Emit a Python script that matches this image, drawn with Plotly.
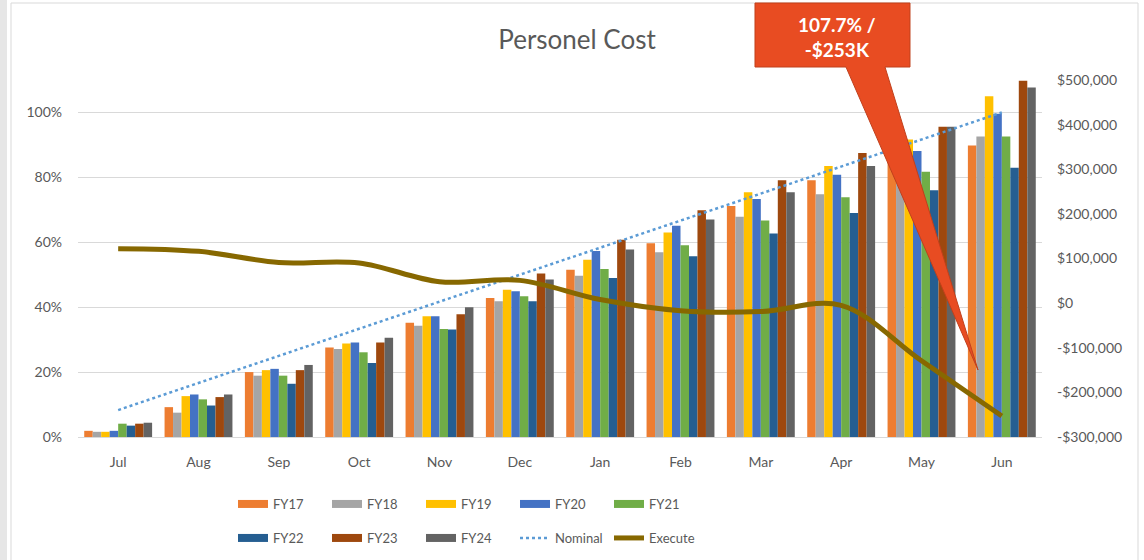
import plotly.graph_objects as go

# ---------------- data ----------------
months = ["Jul", "Aug", "Sep", "Oct", "Nov", "Dec", "Jan", "Feb", "Mar", "Apr", "May", "Jun"]
fy17 = [1.9, 9.2, 20.0, 27.6, 35.2, 42.8, 51.5, 59.7, 71.2, 79.1, 86.0, 89.8]
fy18 = [1.6, 7.5, 18.9, 27.1, 34.3, 41.8, 49.7, 56.9, 67.9, 74.8, 80.0, 92.6]
fy19 = [1.6, 12.6, 20.6, 28.8, 37.2, 45.4, 54.6, 63.0, 75.4, 83.5, 91.7, 105.0]
fy20 = [1.9, 13.1, 21.0, 29.1, 37.2, 44.9, 57.3, 65.1, 73.3, 80.8, 88.1, 99.6]
fy21 = [4.1, 11.6, 18.9, 26.1, 33.3, 43.4, 51.8, 59.1, 66.7, 73.9, 81.7, 92.6]
fy22 = [3.5, 9.7, 16.4, 22.8, 33.1, 41.8, 49.0, 55.7, 62.7, 69.0, 76.0, 83.0]
fy23 = [4.1, 12.3, 20.6, 29.1, 37.8, 50.4, 60.8, 69.9, 79.1, 87.5, 95.6, 109.8]
fy24 = [4.4, 13.1, 22.2, 30.6, 40.0, 48.5, 57.8, 67.0, 75.4, 83.5, 95.6, 107.7]
nominal = [8.3, 16.7, 25.0, 33.3, 41.7, 50.0, 58.3, 66.7, 75.0, 83.3, 91.7, 100.0]
execute = [122000, 116000, 91000, 90000, 48000, 51000, 8000, -17000, -19000, -5000, -129000, -253000]

left_ticks = [0, 20, 40, 60, 80, 100]
left_labels = ["0%", "20%", "40%", "60%", "80%", "100%"]
right_ticks = [-300000, -200000, -100000, 0, 100000, 200000, 300000, 400000, 500000]
right_labels = ["-$300,000", "-$200,000", "-$100,000", "$0", "$100,000",
                "$200,000", "$300,000", "$400,000", "$500,000"]

series_names = ["FY17", "FY18", "FY19", "FY20", "FY21", "FY22", "FY23", "FY24"]
series_values = [fy17, fy18, fy19, fy20, fy21, fy22, fy23, fy24]
series_colors = ["#ED7D31", "#A5A5A5", "#FFC000", "#4472C4", "#70AD47",
                 "#255E91", "#9E480E", "#636363"]

callout_text = "107.7% /<br>-$253K"
title_text = "Personel Cost"

# ---------------- layout geometry ----------------
W, H = 1144, 560
L, R, T, B = 78, 1042, 80, 437
FONT = "Lato"
GREY = "#595959"


def px(x):
    return (x - L) / (R - L)


def py(y):
    return (B - y) / (B - T)


fig = go.Figure()

for name, vals, col in zip(series_names, series_values, series_colors):
    fig.add_trace(go.Bar(x=months, y=vals, name=name, marker=dict(color=col, line=dict(width=0)),
                         legendgroup=name, showlegend=False))

# legend swatches (wide bars like Excel)
for i, (name, col) in enumerate(zip(series_names, series_colors)):
    fig.add_trace(go.Scatter(x=[None], y=[None], mode="lines", name=name,
                             line=dict(color=col, width=8), legendgroup=name,
                             legend="legend" if i < 5 else "legend2"))

fig.add_trace(go.Scatter(x=months, y=nominal, mode="lines", name="Nominal",
                         line=dict(color="#5B9BD5", width=2.5, dash="dot"),
                         legend="legend2"))
fig.add_trace(go.Scatter(x=months, y=execute, mode="lines", name="Execute", yaxis="y2",
                         line=dict(color="#876800", width=5, shape="spline", smoothing=1),
                         legend="legend2"))

legend_common = dict(orientation="h", xanchor="left", yanchor="middle",
                     xref="container", yref="container",
                     entrywidth=49, entrywidthmode="pixels",
                     font=dict(family=FONT, size=13, color=GREY),
                     bgcolor="rgba(0,0,0,0)", traceorder="normal")

# callout polygon (pixel coords -> paper)
poly = [(755, 3), (910, 3), (910, 67), (885, 67), (978, 370), (846, 67), (755, 67)]
path = "M " + " L ".join(f"{px(x):.5f},{py(y):.5f}" for x, y in poly) + " Z"

shapes = [
    # outside grey band and chart frame
    dict(type="rect", xref="paper", yref="paper", x0=px(0), x1=px(7), y0=py(H), y1=py(0),
         fillcolor="#E6E6E6", line=dict(width=0), layer="below"),
    dict(type="line", xref="paper", yref="paper", x0=px(11), x1=px(11), y0=py(H), y1=py(3),
         line=dict(color="#D9D9D9", width=1)),
    dict(type="line", xref="paper", yref="paper", x0=px(1138), x1=px(1138), y0=py(H), y1=py(3),
         line=dict(color="#D9D9D9", width=1)),
    dict(type="line", xref="paper", yref="paper", x0=px(11), x1=px(1138), y0=py(3), y1=py(3),
         line=dict(color="#D9D9D9", width=1)),
    dict(type="path", xref="paper", yref="paper", path=path,
         fillcolor="#E84C22", line=dict(color="#C0401C", width=1), layer="above"),
]

annotations = [
    dict(xref="paper", yref="paper", x=px(837), y=py(37), text=callout_text, showarrow=False,
         font=dict(family=FONT, size=19, color="white", weight="bold"),
         xanchor="center", yanchor="middle", align="center"),
]

fig.update_layout(
    width=W, height=H,
    margin=dict(l=L, r=W - R, t=T, b=H - B, pad=0),
    paper_bgcolor="white", plot_bgcolor="white",
    font=dict(family=FONT, color=GREY),
    title=dict(text=title_text, x=577 / W, xref="container", xanchor="center",
               y=1 - 40 / H, yref="container", yanchor="middle",
               font=dict(family=FONT, size=26, color=GREY)),
    barmode="group", bargap=0.155, bargroupgap=0,
    xaxis=dict(type="category", showline=True, linecolor="#D9D9D9", linewidth=1,
               ticks="", showgrid=False, tickfont=dict(family=FONT, size=14, color=GREY),
               ticklabelstandoff=12, automargin=False),
    yaxis=dict(range=[0, 110], tickvals=left_ticks, ticktext=left_labels,
               showgrid=True, gridcolor="#D9D9D9", gridwidth=1, zeroline=False,
               showline=False, ticks="", tickfont=dict(family=FONT, size=14, color=GREY),
               ticklabelstandoff=15, automargin=False),
    yaxis2=dict(range=[-300000, 500000], tickvals=right_ticks, ticktext=right_labels,
                overlaying="y", side="right", showgrid=False, zeroline=False,
                showline=False, ticks="", tickfont=dict(family=FONT, size=14, color=GREY),
                ticklabelstandoff=14, automargin=False),
    legend=dict(x=233 / W, y=1 - 504 / H, **legend_common),
    legend2=dict(x=233 / W, y=1 - 538 / H, **legend_common),
    shapes=shapes,
    annotations=annotations,
    showlegend=True,
)

fig.write_html("out.html", config={"displayModeBar": False},
               post_script="document.body.style.margin='0';")
